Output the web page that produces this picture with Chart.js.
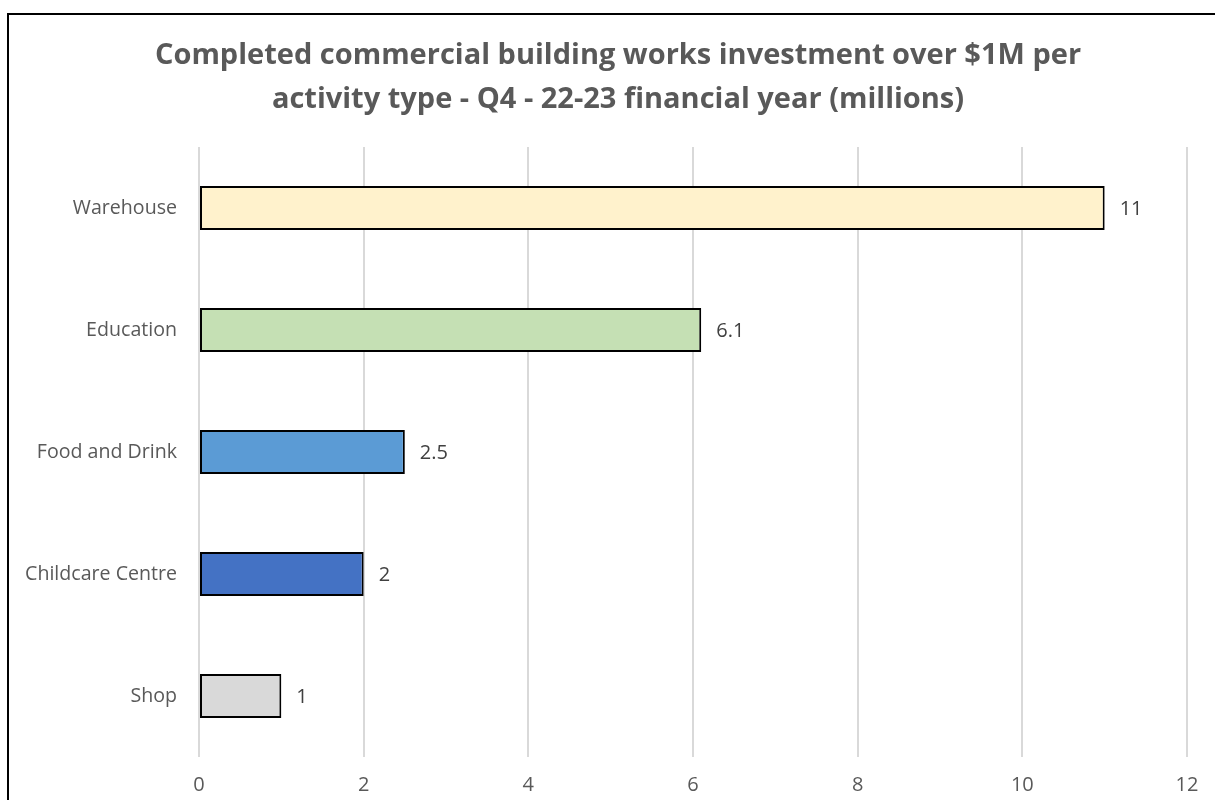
<!DOCTYPE html>
<html>
<head>
<meta charset="utf-8">
<script src="https://cdn.jsdelivr.net/npm/chart.js@4/dist/chart.umd.min.js"></script>
<style>
  html, body { margin: 0; padding: 0; background: #fff; overflow: hidden; }
  #wrap { position: relative; width: 1215px; height: 800px; }
  #frame { position: absolute; left: 7px; top: 13px; width: 1400px; height: 1000px;
           border: 2px solid #000; pointer-events: none; }
</style>
</head>
<body>
<div id="wrap">
  <canvas id="chart" width="1215" height="800"></canvas>
  <div id="frame"></div>
</div>
<script>
// data
var categories = ['Warehouse', 'Education', 'Food and Drink', 'Childcare Centre', 'Shop'];
var values = [11, 6.1, 2.5, 2, 1];
var barColors = ['#FFF2CC', '#C5E0B4', '#5B9BD5', '#4472C4', '#D9D9D9'];
var xTicks = [0, 2, 4, 6, 8, 10, 12];
var titleLines = ['Completed commercial building works investment over $1M per',
                  'activity type - Q4 - 22-23 financial year (millions)'];

var FONT = "'Open Sans', 'DejaVu Sans', sans-serif";

// two-line title, centred a bit right of the canvas middle like the original
var chartTitle = {
    id: 'chartTitle',
    afterDraw: function (chart) {
        var ctx = chart.ctx;
        ctx.save();
        ctx.font = 'bold 29px ' + FONT;
        ctx.fillStyle = '#595959';
        ctx.textAlign = 'center';
        ctx.textBaseline = 'middle';
        titleLines.forEach(function (line, i) {
            ctx.fillText(line, 618, 56 + i * 44);
        });
        ctx.restore();
    }
};

// draws the value at the end of every bar
var valueLabels = {
    id: 'valueLabels',
    afterDatasetsDraw: function (chart) {
        var ctx = chart.ctx;
        var meta = chart.getDatasetMeta(0);
        ctx.save();
        ctx.font = '20px ' + FONT;
        ctx.fillStyle = '#404040';
        ctx.textAlign = 'left';
        ctx.textBaseline = 'middle';
        meta.data.forEach(function (bar, i) {
            ctx.fillText(String(values[i]), bar.x + 15, bar.y + 1);
        });
        ctx.restore();
    }
};

var ctx = document.getElementById('chart').getContext('2d');
var chart = new Chart(ctx, {
    type: 'bar',
    data: {
        labels: categories,
        datasets: [{
            data: values,
            backgroundColor: barColors,
            borderColor: '#000000',
            borderWidth: 2,
            borderSkipped: false,
            barPercentage: 0.36,
            categoryPercentage: 1
        }]
    },
    options: {
        indexAxis: 'y',
        responsive: false,
        animation: false,
        layout: { padding: { top: 147, right: 28, left: 0, bottom: 0 } },
        plugins: {
            legend: { display: false },
            tooltip: { enabled: false },
            title: { display: false }
        },
        scales: {
            x: {
                min: 0,
                max: 12,
                afterBuildTicks: function (scale) {
                    scale.ticks = xTicks.map(function (v) { return { value: v }; });
                },
                afterFit: function (scale) { scale.height = 43; },
                grid: { color: '#D9D9D9', lineWidth: 2, drawTicks: false },
                border: { display: false },
                ticks: { color: '#595959', padding: 16, font: { family: FONT, size: 20 } }
            },
            y: {
                afterFit: function (scale) { scale.width = 199; },
                grid: { display: false, drawTicks: false },
                border: { display: false },
                ticks: { color: '#595959', padding: 22, font: { family: FONT, size: 19.6 } }
            }
        }
    },
    plugins: [chartTitle, valueLabels]
});
</script>
</body>
</html>
